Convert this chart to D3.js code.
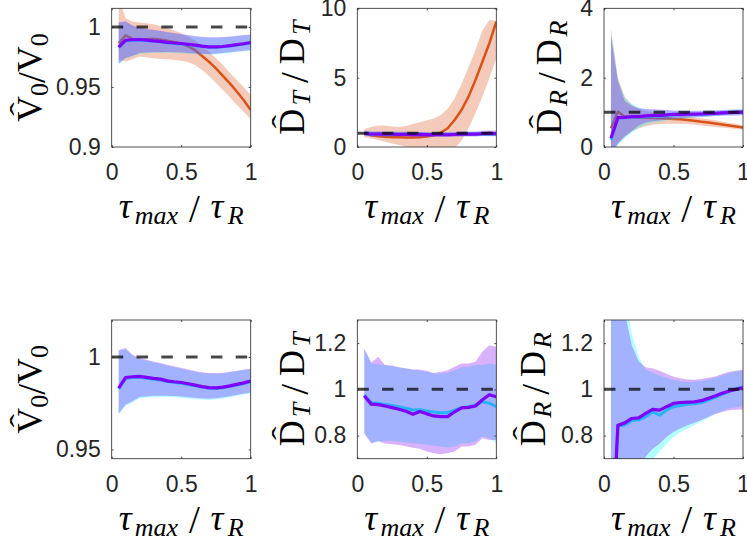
<!DOCTYPE html>
<html><head><meta charset="utf-8">
<script src="https://cdn.jsdelivr.net/npm/d3@7"></script>
<style>body{margin:0;background:#fff} svg{display:block}</style>
</head><body>
<svg id="c" width="747" height="542"></svg>
<script>
// ---------- data ----------
const xs = [0.05,0.10,0.15,0.20,0.25,0.30,0.35,0.40,0.45,0.50,0.55,0.60,0.65,0.70,0.75,0.80,0.85,0.90,0.95,1.00];

// V0 estimate
const orangeV    = [0.9864,0.9930,0.9900,0.9895,0.9898,0.9902,0.9895,0.9885,0.9875,0.9862,0.9838,0.9806,0.9758,0.9710,0.9655,0.9592,0.9530,0.9462,0.9390,0.9308];
const orangeVHi  = [1.0250,1.0072,1.0044,1.0036,1.0030,1.0022,1.0008,0.9989,0.9970,0.9947,0.9919,0.9886,0.9842,0.9794,0.9739,0.9683,0.9619,0.9558,0.9497,0.9433];
const orangeVLo  = [0.9725,0.9711,0.9731,0.9753,0.9747,0.9739,0.9733,0.9731,0.9725,0.9719,0.9706,0.9683,0.9642,0.9592,0.9536,0.9475,0.9414,0.9350,0.9294,0.9231];
const cyanV      = [0.9828,0.9884,0.9889,0.9890,0.9885,0.9880,0.9876,0.9867,0.9862,0.9858,0.9851,0.9844,0.9837,0.9831,0.9830,0.9834,0.9841,0.9849,0.9857,0.9867];
const cyanVHi    = [1.0034,1.0042,1.0008,0.9990,0.9980,0.9971,0.9963,0.9953,0.9945,0.9937,0.9928,0.9920,0.9914,0.9911,0.9910,0.9912,0.9917,0.9923,0.9929,0.9933];
const cyanVLo    = [0.9688,0.9736,0.9754,0.9776,0.9781,0.9784,0.9784,0.9785,0.9783,0.9780,0.9776,0.9773,0.9770,0.9768,0.9771,0.9776,0.9783,0.9791,0.9797,0.9804];
const purpleV    = [0.9832,0.9889,0.9893,0.9895,0.9890,0.9884,0.9880,0.9871,0.9866,0.9862,0.9855,0.9848,0.9840,0.9834,0.9833,0.9837,0.9844,0.9852,0.9860,0.9870];
const purpleVHi  = [1.0038,1.0048,1.0012,0.9994,0.9985,0.9976,0.9968,0.9958,0.9950,0.9942,0.9932,0.9924,0.9918,0.9914,0.9913,0.9915,0.9920,0.9926,0.9932,0.9936];
const purpleVLo  = [0.9695,0.9742,0.9760,0.9783,0.9787,0.9790,0.9790,0.9791,0.9789,0.9786,0.9782,0.9779,0.9776,0.9774,0.9777,0.9782,0.9788,0.9795,0.9801,0.9808];

// D_T estimate
const orangeDT   = [0.99,0.85,0.78,0.74,0.71,0.70,0.69,0.68,0.70,0.75,0.85,1.03,1.35,1.95,2.67,3.63,4.83,6.15,7.48,9.03];
const orangeDTHi = [1.30,1.45,1.55,1.55,1.48,1.45,1.52,1.65,1.78,1.92,2.05,2.30,2.75,3.50,4.55,5.75,7.00,8.40,9.15,9.10];
const orangeDTLo = [0.72,0.62,0.50,0.38,0.26,0.14,0.02,-0.05,-0.10,-0.12,-0.12,-0.10,-0.08,-0.10,0.45,1.35,2.43,3.63,4.95,6.39];
const cyanDT     = [0.976,0.942,0.940,0.935,0.930,0.925,0.918,0.911,0.912,0.906,0.902,0.899,0.899,0.910,0.921,0.925,0.932,0.947,0.940,0.925];
const cyanDTHi   = [1.177,1.114,1.108,1.104,1.100,1.095,1.090,1.085,1.080,1.076,1.069,1.069,1.072,1.083,1.095,1.098,1.105,1.105,1.112,1.105];
const cyanDTLo   = [0.810,0.770,0.774,0.777,0.778,0.774,0.770,0.767,0.764,0.760,0.756,0.753,0.750,0.753,0.767,0.767,0.774,0.796,0.789,0.767];
const purpleDT   = [0.972,0.936,0.934,0.928,0.921,0.914,0.905,0.892,0.904,0.894,0.885,0.882,0.882,0.903,0.920,0.922,0.928,0.955,0.977,0.968];
const purpleDTHi = [1.177,1.115,1.141,1.105,1.103,1.096,1.091,1.086,1.086,1.080,1.071,1.076,1.083,1.098,1.112,1.112,1.119,1.163,1.191,1.184];
const purpleDTLo = [0.810,0.766,0.776,0.766,0.763,0.759,0.754,0.747,0.743,0.731,0.724,0.719,0.724,0.731,0.753,0.753,0.760,0.789,0.781,0.781];

// D_R estimate
const orangeDR   = [0.54,1.02,0.875,0.86,0.85,0.84,0.835,0.83,0.825,0.81,0.80,0.78,0.755,0.73,0.705,0.68,0.65,0.62,0.59,0.56];
const orangeDRHi = [3.40,2.00,1.45,1.22,1.10,1.04,1.00,0.97,0.95,0.93,0.91,0.89,0.86,0.83,0.80,0.77,0.73,0.69,0.66,0.62];
const orangeDRLo = [-0.30,0.10,0.30,0.45,0.54,0.60,0.64,0.66,0.67,0.67,0.67,0.66,0.64,0.62,0.60,0.58,0.56,0.54,0.52,0.50];
const cyanDR     = [0.20,0.840,0.846,0.864,0.868,0.881,0.903,0.888,0.910,0.925,0.930,0.935,0.938,0.942,0.953,0.965,0.978,0.990,1.002,1.012];
const cyanDRHi   = [3.35,1.95,1.42,1.24,1.14,1.085,1.072,1.060,1.050,1.040,1.035,1.032,1.033,1.036,1.043,1.050,1.060,1.070,1.078,1.083];
const cyanDRLo   = [-0.30,0.06,0.25,0.42,0.55,0.64,0.697,0.729,0.765,0.794,0.815,0.830,0.846,0.860,0.876,0.893,0.905,0.917,0.923,0.928];
const purpleDR   = [0.25,0.845,0.855,0.874,0.877,0.896,0.913,0.910,0.925,0.939,0.943,0.945,0.946,0.951,0.961,0.971,0.983,0.993,1.000,1.007];
const purpleDRHi = [3.20,1.90,1.33,1.19,1.12,1.096,1.090,1.080,1.068,1.055,1.048,1.043,1.042,1.045,1.050,1.056,1.066,1.076,1.081,1.085];
const purpleDRLo = [-0.20,0.10,0.30,0.46,0.62,0.71,0.743,0.765,0.794,0.816,0.832,0.845,0.856,0.867,0.880,0.893,0.902,0.910,0.912,0.913];

const xTicks = [0, 0.5, 1];
const yTicksTop = [[0.9,0.95,1],[0,5,10],[0,2,4]];
const yTicksBot = [[0.95,1],[0.8,1,1.2],[0.8,1,1.2]];
const yLimTop = [[0.9,1.0155],[0,10],[0,4]];
const yLimBot = [[0.945,1.02],[0.7,1.3],[0.7,1.3]];
const reference = 1;

// ---------- style ----------
const COL = {orange:'#D95319', cyan:'#00FFFF', purple:'#8000FF'};
const SANS = 'Liberation Sans, Arial, Helvetica, sans-serif';
const SERIF = 'Liberation Serif, Times New Roman, serif';
const AX = '#262626';
const colLeft = [111.7, 357.3, 604], rowTop = [8.3, 320], PW = 139, PH = 138.7;

const svg = d3.select('#c');

function mk(lo, mid, hi, color, lw){ return {lo, mid, hi, color, lw}; }

const panels = [
  {c:0,r:0, ylim:yLimTop[0], ticks:yTicksTop[0], lab:'V', sub:'0', subIt:false, ylx:-70, ylw:88,
   series:[mk(orangeVLo,orangeV,orangeVHi,COL.orange,2.5), mk(cyanVLo,cyanV,cyanVHi,COL.cyan,3), mk(purpleVLo,purpleV,purpleVHi,COL.purple,3.2)]},
  {c:1,r:0, ylim:yLimTop[1], ticks:yTicksTop[1], lab:'D', sub:'T', subIt:true, ylx:-53, ylw:114,
   series:[mk(orangeDTLo,orangeDT,orangeDTHi,COL.orange,2.5), mk(cyanDTLo,cyanDT,cyanDTHi,COL.cyan,3), mk(purpleDTLo,purpleDT,purpleDTHi,COL.purple,3.2)]},
  {c:2,r:0, ylim:yLimTop[2], ticks:yTicksTop[2], lab:'D', sub:'R', subIt:true, ylx:-43, ylw:114,
   series:[mk(orangeDRLo,orangeDR,orangeDRHi,COL.orange,2.5), mk(cyanDRLo,cyanDR,cyanDRHi,COL.cyan,3), mk(purpleDRLo,purpleDR,purpleDRHi,COL.purple,3.2)]},
  {c:0,r:1, ylim:yLimBot[0], ticks:yTicksBot[0], lab:'V', sub:'0', subIt:false, ylx:-70, ylw:88,
   series:[mk(cyanVLo,cyanV,cyanVHi,COL.cyan,3), mk(purpleVLo,purpleV,purpleVHi,COL.purple,3.2)]},
  {c:1,r:1, ylim:yLimBot[1], ticks:yTicksBot[1], lab:'D', sub:'T', subIt:true, ylx:-53, ylw:114,
   series:[mk(cyanDTLo,cyanDT,cyanDTHi,COL.cyan,3), mk(purpleDTLo,purpleDT,purpleDTHi,COL.purple,3.2)]},
  {c:2,r:1, ylim:yLimBot[2], ticks:yTicksBot[2], lab:'D', sub:'R', subIt:true, ylx:-59, ylw:114,
   series:[mk(cyanDRLo,cyanDR,cyanDRHi,COL.cyan,3), mk(purpleDRLo,purpleDR,purpleDRHi,COL.purple,3.2)]},
];

// math-like label builder: lays pieces along the baseline; extra room to reach the
// target width is shared between gaps according to each piece's weight w
function mathText(g, pieces, target){
  const inner = g.append('g');
  const els = pieces.map(p => {
    const el = inner.append('text')
      .attr('y', p.dy || 0)
      .attr('font-family', SERIF).attr('font-size', p.size)
      .attr('font-style', p.it ? 'italic' : 'normal')
      .attr('fill', '#000').text(p.t);
    return {p, el, w: el.node().getComputedTextLength()};
  });
  const natural = d3.sum(els, e => e.w);
  const wsum = d3.sum(els.slice(1), e => e.p.w || 0) || 1;
  const extra = Math.max(0, target - natural);
  let cx = 0;
  els.forEach((e, i) => {
    if (i > 0) cx += extra * (e.p.w || 0) / wsum;
    e.el.attr('x', cx);
    if (e.p.hat) {
      const hx = cx + e.w*0.5;
      inner.append('text').attr('x', 0).attr('y', 0)
        .attr('transform', `translate(${hx},${e.p.hatY}) scale(1.45,1)`)
        .attr('text-anchor','middle').attr('font-family', SERIF)
        .attr('font-size', 28).attr('fill','#000').text('\u02C6');
    }
    cx += e.w;
  });
  inner.attr('transform', `translate(${-cx/2},0)`);
}

const BIG = 36, SUB = 26, SLASH = 39;

panels.forEach((P, pi) => {
  const g = svg.append('g').attr('transform', `translate(${colLeft[P.c]},${rowTop[P.r]})`);
  const x = d3.scaleLinear().domain([0,1]).range([0,PW]);
  const y = d3.scaleLinear().domain(P.ylim).range([PH,0]);
  const cid = 'clip'+pi;
  g.append('clipPath').attr('id',cid).append('rect').attr('width',PW).attr('height',PH);
  const plot = g.append('g').attr('clip-path',`url(#${cid})`);

  P.series.forEach(s => {
    const area = d3.area().x((d,i)=>x(xs[i])).y0((d,i)=>y(s.lo[i])).y1((d,i)=>y(s.hi[i]));
    plot.append('path').attr('d', area(xs)).attr('fill', s.color).attr('fill-opacity',0.3).attr('stroke','none');
    const line = d3.line().x((d,i)=>x(xs[i])).y((d,i)=>y(s.mid[i]));
    plot.append('path').attr('d', line(xs)).attr('fill','none').attr('stroke', s.color)
      .attr('stroke-width', s.lw).attr('stroke-linejoin','round');
  });
  // reference dashed line
  plot.append('path').attr('d', d3.line().x(d=>x(d)).y(()=>y(reference))([0,1]))
    .attr('stroke','#000').attr('stroke-opacity',0.72).attr('stroke-width',3)
    .attr('stroke-dasharray','11.5 13.3').attr('fill','none');

  // axes (ticks inward, box on)
  const fmt = d => String(d);
  const styleAx = a => {
    a.select('.domain').remove();
    a.selectAll('line').attr('stroke', AX).attr('stroke-width', 0.8);
    a.selectAll('text').attr('fill', AX).attr('font-family', SANS).attr('font-size', 23);
  };
  g.append('g').attr('transform',`translate(0,${PH})`)
    .call(d3.axisBottom(x).tickValues(xTicks).tickFormat(fmt).tickSizeInner(-2).tickSizeOuter(0).tickPadding(17)).call(styleAx);
  g.append('g').call(d3.axisTop(x).tickValues(xTicks).tickFormat('').tickSizeInner(-2).tickSizeOuter(0)).call(styleAx);
  g.append('g').call(d3.axisLeft(y).tickValues(P.ticks).tickFormat(fmt).tickSizeInner(-2).tickSizeOuter(0).tickPadding(11)).call(styleAx);
  g.append('g').attr('transform',`translate(${PW},0)`)
    .call(d3.axisRight(y).tickValues(P.ticks).tickFormat('').tickSizeInner(-2).tickSizeOuter(0)).call(styleAx);
  g.append('rect').attr('width',PW).attr('height',PH).attr('fill','none').attr('stroke',AX).attr('stroke-width',0.8);

  // x label
  const xl = g.append('g').attr('transform',`translate(${PW/2},${PH+71})`);
  mathText(xl, [
    {t:'\u03C4', size:BIG, it:true},
    {t:'max', size:SUB, it:true, dy:6, w:0.3},
    {t:'/', size:SLASH, dy:3.5, w:1},
    {t:'\u03C4', size:BIG, it:true, w:1},
    {t:'R', size:SUB, it:true, dy:6, w:0.4},
  ], 125);
  // y label
  const yl = g.append('g').attr('transform',`translate(${P.ylx},${PH/2}) rotate(-90)`);
  mathText(yl, [
    {t:P.lab, size:BIG, hat:true, hatY:-13},
    {t:P.sub, size:SUB, it:P.subIt, dy:6, w:0.5},
    {t:'/', size:SLASH, dy:3.5, w:1.3},
    {t:P.lab, size:BIG, w:1.3},
    {t:P.sub, size:SUB, it:P.subIt, dy:6, w:0.5},
  ], P.ylw);
});
</script>
</body></html>
